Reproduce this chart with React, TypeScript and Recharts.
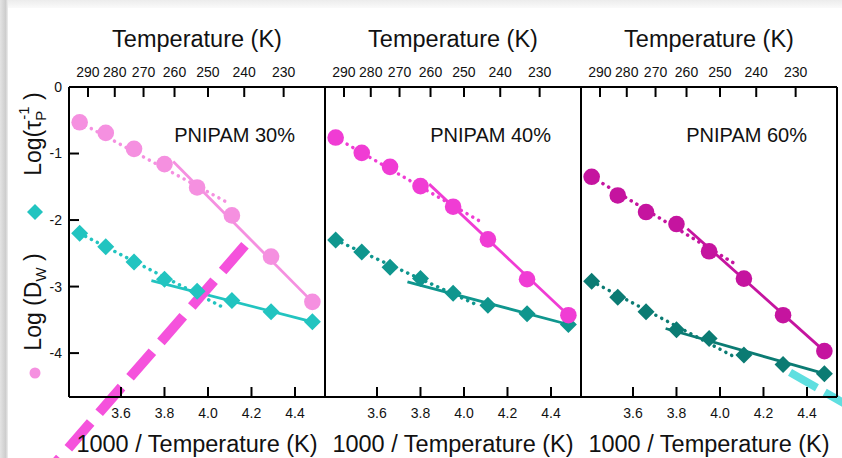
import React from 'react';
import { ComposedChart, Line, Scatter, XAxis, YAxis, ReferenceLine } from 'recharts';

// shared x positions (1000 / T)
const invT = [3.41, 3.53, 3.66, 3.8, 3.95, 4.11, 4.29, 4.48];
const tempTicks = [290, 280, 270, 260, 250, 240, 230];
const invTicks = [3.6, 3.8, 4.0, 4.2, 4.4];
const logTicks = [0, -1, -2, -3, -4];

// Log(tau_P^-1), circles
const tau30 = [-0.53, -0.69, -0.93, -1.16, -1.51, -1.93, -2.55, -3.23];
const tau40 = [-0.76, -0.99, -1.2, -1.49, -1.8, -2.29, -2.89, -3.43];
const tau60 = [-1.35, -1.63, -1.88, -2.06, -2.47, -2.88, -3.43, -3.97];

// Log(D_W), diamonds
const dw30 = [-2.2, -2.4, -2.63, -2.89, -3.07, -3.21, -3.38, -3.53];
const dw40 = [-2.3, -2.48, -2.71, -2.88, -3.1, -3.28, -3.41, -3.57];
const dw60 = [-2.92, -3.16, -3.38, -3.65, -3.78, -4.03, -4.17, -4.31];

// fit segments: [x1, y1, x2, y2]
const tauLow30 = [3.41, -0.53, 4.08, -1.72];
const tauHigh30 = [3.84, -1.12, 4.48, -3.23];
const dwLow30 = [3.41, -2.2, 4.08, -3.33];
const dwHigh30 = [3.74, -2.91, 4.48, -3.53];

const tauLow40 = [3.41, -0.76, 4.08, -2.03];
const tauHigh40 = [3.84, -1.46, 4.48, -3.43];
const dwLow40 = [3.41, -2.3, 4.07, -3.29];
const dwHigh40 = [3.74, -2.93, 4.48, -3.57];

const tauLow60 = [3.41, -1.35, 4.08, -2.68];
const tauHigh60 = [3.85, -2.13, 4.48, -3.97];
const dwLow60 = [3.41, -2.92, 4.08, -4.08];
const dwHigh60 = [3.75, -3.63, 4.48, -4.31];

// overlaid marker strokes
const pinkStroke = [4.17, -2.38, 3.23, -5.91];
const cyanStroke = [4.322, -4.29, 4.6, -4.81];

const xDomain = [3.361, 4.538];
const yDomain = [-4.66, 0];
const topTickPos = tempTicks.map((t) => 1000 / t);
const font = '"Liberation Sans", Arial, sans-serif';

const pts = (ys: number[]) => ys.map((y, i) => ({ x: invT[i], y }));
const seg = (s: number[]) => [
  { x: s[0], y: s[1] },
  { x: s[2], y: s[3] },
];

const panels = [
  {
    label: 'PNIPAM 30%',
    tau: tau30, dw: dw30,
    fits: [tauLow30, tauHigh30, dwLow30, dwHigh30],
    circle: '#f590e0', diamond: '#22c4c0',
  },
  {
    label: 'PNIPAM 40%',
    tau: tau40, dw: dw40,
    fits: [tauLow40, tauHigh40, dwLow40, dwHigh40],
    circle: '#f03cd4', diamond: '#0f968e',
  },
  {
    label: 'PNIPAM 60%',
    tau: tau60, dw: dw60,
    fits: [tauLow60, tauHigh60, dwLow60, dwHigh60],
    circle: '#c5149f', diamond: '#0b7b73',
  },
];

const axisStroke = { stroke: '#000', strokeWidth: 2 };
const tickFont = { fill: '#111', fontSize: 14, fontFamily: font };
const topLabel = { value: 'Temperature (K)', position: 'insideTop', offset: 30, fontSize: 23.5, fill: '#111', fontFamily: font };
const bottomLabel = { value: '1000 / Temperature (K)', position: 'insideBottom', offset: 6, fontSize: 23.5, fill: '#111', fontFamily: font };
const fmtInv = (v: number) => v.toFixed(1);
const fmtTemp = (v: number) => String(Math.round(1000 / v));

// top ticks point inward, so the tick mark sits below the label
function TopTick(props: any) {
  const { x, y, payload } = props;
  return (
    <g>
      <line x1={x} x2={x} y1={y + 10} y2={y + 20} stroke="#000" strokeWidth={2} />
      <text x={x} y={y} textAnchor="middle" fill="#111" fontSize={14} fontFamily={font}>
        {fmtTemp(payload.value)}
      </text>
    </g>
  );
}

function Panel({ idx }: { idx: number }) {
  const p = panels[idx];
  const dotted = { strokeWidth: 3.5, strokeDasharray: '0.1 6.5', strokeLinecap: 'round' as const };
  const solid = { strokeWidth: 2.8 };
  const fitColors = [p.circle, p.circle, p.diamond, p.diamond];
  const d = 8.5;
  return (
    <div style={{ position: 'absolute', left: 0, top: 0 }}>
      <ComposedChart
        width={842}
        height={458}
        margin={{ top: 0, bottom: 0, left: 256 * idx, right: 512 - 256 * idx }}
      >
        <XAxis
          dataKey="x"
          type="number"
          domain={xDomain}
          allowDataOverflow
          ticks={invTicks}
          tickFormatter={fmtInv}
          height={61}
          tickSize={-10}
          tickMargin={21}
          tick={tickFont}
          tickLine={axisStroke}
          axisLine={axisStroke}
          label={bottomLabel}
        />
        <XAxis
          xAxisId="top"
          dataKey="x"
          orientation="top"
          type="number"
          domain={xDomain}
          allowDataOverflow
          ticks={topTickPos}
          interval={0}
          height={87}
          tickSize={-10}
          tickMargin={20}
          tick={<TopTick />}
          tickLine={false}
          axisLine={axisStroke}
          label={topLabel}
        />
        <YAxis
          dataKey="y"
          type="number"
          domain={yDomain}
          allowDataOverflow
          ticks={logTicks}
          width={69}
          tickSize={-10}
          tickMargin={17}
          tick={idx === 0 ? tickFont : false}
          tickLine={axisStroke}
          axisLine={axisStroke}
        />
        <YAxis
          yAxisId="right"
          orientation="right"
          type="number"
          domain={yDomain}
          allowDataOverflow
          ticks={logTicks}
          width={5}
          tickSize={-10}
          tick={false}
          tickLine={axisStroke}
          axisLine={axisStroke}
        />
        {p.fits.map((f, i) => (
          <Line
            key={i}
            data={seg(f)}
            dataKey="y"
            type="linear"
            stroke={fitColors[i]}
            dot={false}
            activeDot={false}
            isAnimationActive={false}
            {...(i % 2 === 0 ? dotted : solid)}
          />
        ))}
        {/* invisible series on the top axis so it gets a scale */}
        <Line
          xAxisId="top"
          data={seg(p.fits[0])}
          dataKey="y"
          stroke="none"
          dot={false}
          activeDot={false}
          isAnimationActive={false}
        />
        <Scatter
          data={pts(p.dw)}
          isAnimationActive={false}
          shape={(s: any) => (
            <polygon
              points={`${s.cx},${s.cy - d} ${s.cx + d},${s.cy} ${s.cx},${s.cy + d} ${s.cx - d},${s.cy}`}
              fill={p.diamond}
            />
          )}
        />
        <Scatter
          data={pts(p.tau)}
          isAnimationActive={false}
          shape={(s: any) => <circle cx={s.cx} cy={s.cy} r={8.3} fill={p.circle} />}
        />
        {idx === 0 && (
          <ReferenceLine
            segment={seg(pinkStroke)}
            ifOverflow="visible"
            stroke="#f552dc"
            strokeWidth={10}
            strokeDasharray="34 13"
          />
        )}
        {idx === 2 && (
          <ReferenceLine
            segment={seg(cyanStroke)}
            ifOverflow="visible"
            stroke="#5fdfe0"
            strokeWidth={8}
            strokeDasharray="31 9"
          />
        )}
      </ComposedChart>
    </div>
  );
}

export default function App() {
  return (
    <div
      style={{
        position: 'absolute',
        left: 0,
        top: 0,
        width: 842,
        height: 458,
        background: '#fff',
        overflow: 'hidden',
        fontFamily: font,
      }}
    >
      <div style={{ position: 'absolute', left: 0, top: 0, width: 842, height: 8, background: 'linear-gradient(#ececec, #fafafa)' }} />
      <div style={{ position: 'absolute', left: 0, top: 0, width: 8, height: 458, background: 'linear-gradient(to right, #e4e4e4, #cdcdcd 70%, #efefef)' }} />
      <Panel idx={0} />
      <Panel idx={1} />
      <Panel idx={2} />
      <svg width={842} height={458} style={{ position: 'absolute', left: 0, top: 0, pointerEvents: 'none' }}>
        {panels.map((p, i) => (
          <text key={i} x={295 + 256 * i} y={142} textAnchor="end" fontSize={20} fill="#111" fontFamily={font}>
            {p.label}
          </text>
        ))}
        <text transform="translate(41,134) rotate(-90)" textAnchor="middle" fontSize={23} fill="#111" fontFamily={font}>
          Log(τ
          <tspan fontSize={15} dy={5}>P</tspan>
          <tspan fontSize={15} dx={-9} dy={-17}>-1</tspan>
          <tspan dy={12}>  )</tspan>
        </text>
        <text transform="translate(41,302) rotate(-90)" textAnchor="middle" fontSize={23} fill="#111" fontFamily={font}>
          Log (D
          <tspan fontSize={15} dy={5}>W</tspan>
          <tspan dy={-5}>  )</tspan>
        </text>
        <polygon points="35,204 43,212 35,220 27,212" fill={panels[0].diamond} />
        <circle cx={35} cy={373} r={5.5} fill={panels[0].circle} />
      </svg>
    </div>
  );
}
